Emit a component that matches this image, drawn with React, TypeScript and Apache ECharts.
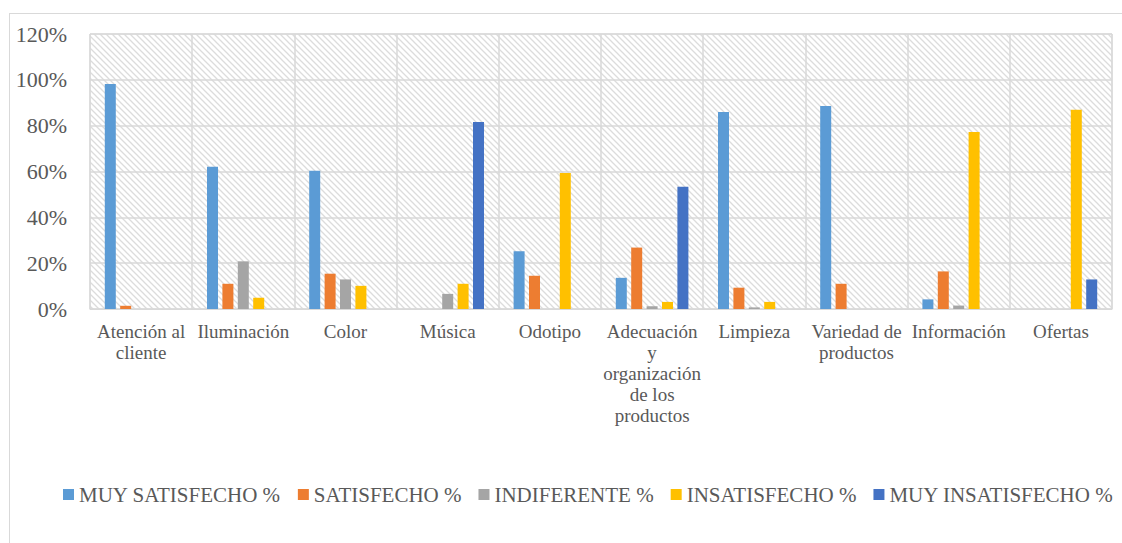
import React, { useEffect, useRef } from "react";
import * as echarts from "echarts";

// Survey categories (x axis)
const categories = [
  "Atención al\ncliente",
  "Iluminación",
  "Color",
  "Música",
  "Odotipo",
  "Adecuación\ny\norganización\nde los\nproductos",
  "Limpieza",
  "Variedad de\nproductos",
  "Información",
  "Ofertas",
];

// Percentage of answers per level of satisfaction
const muySatisfecho = [98.2, 62.1, 60.3, 0, 25.2, 13.6, 86.0, 88.6, 4.2, 0];
const satisfecho = [1.4, 11.0, 15.4, 0, 14.5, 26.8, 9.3, 11.0, 16.4, 0];
const indiferente = [0, 20.8, 12.9, 6.6, 0, 1.2, 0.7, 0, 1.5, 0];
const insatisfecho = [0, 4.9, 10.1, 11.0, 59.4, 3.1, 3.1, 0, 77.2, 86.9];
const muyInsatisfecho = [0, 0, 0, 81.6, 0, 53.3, 0, 0, 0, 12.9];

const seriesNames = [
  "MUY SATISFECHO %",
  "SATISFECHO %",
  "INDIFERENTE %",
  "INSATISFECHO %",
  "MUY INSATISFECHO %",
];
const seriesData = [muySatisfecho, satisfecho, indiferente, insatisfecho, muyInsatisfecho];
const seriesColors = ["#5B9BD5", "#ED7D31", "#A5A5A5", "#FFC000", "#4472C4"];

// Y axis ticks: 0% .. 120% every 20%
const yMin = 0;
const yMax = 120;
const yStep = 20;

const FONT = "Liberation Serif";
const TEXT = "#595959";
const LINE = "#d9d9d9";

// Light diagonal hatch used as the plot-area fill
const hatchTile =
  "data:image/svg+xml;utf8," +
  encodeURIComponent(
    "<svg xmlns='http://www.w3.org/2000/svg' width='6' height='6'>" +
      "<rect width='6' height='6' fill='#ffffff'/>" +
      "<path d='M-1,5 L1,7 M0,0 L6,6 M5,-1 L7,1' stroke='#dcdcdc' stroke-width='1.3'/>" +
      "</svg>"
  );

export default function App() {
  const ref = useRef<HTMLDivElement>(null);

  useEffect(() => {
    if (!ref.current) return;
    const chart = echarts.init(ref.current, undefined, { renderer: "svg" });
    chart.setOption({
      animation: false,
      backgroundColor: "#ffffff",
      textStyle: { fontFamily: FONT },
      graphic: [
        {
          type: "line",
          shape: { x1: 9, y1: 13.5, x2: 1122, y2: 13.5 },
          style: { stroke: LINE, lineWidth: 1 },
          silent: true,
        },
        {
          type: "line",
          shape: { x1: 9.5, y1: 13, x2: 9.5, y2: 543 },
          style: { stroke: LINE, lineWidth: 1 },
          silent: true,
        },
      ],
      grid: {
        left: 90,
        top: 34,
        width: 1022,
        height: 275,
        show: true,
        borderColor: LINE,
        borderWidth: 1,
        backgroundColor: {
          image: hatchTile,
          repeat: "repeat",
          imageWidth: 6,
          imageHeight: 6,
        },
      },
      legend: {
        left: 63,
        top: 484,
        padding: 0,
        icon: "rect",
        itemWidth: 11,
        itemHeight: 11,
        itemGap: 17,
        data: seriesNames,
        textStyle: { fontFamily: FONT, fontSize: 21, color: TEXT },
      },
      xAxis: {
        type: "category",
        data: categories,
        axisLine: { show: true, lineStyle: { color: LINE, width: 1 } },
        axisTick: { show: false },
        splitLine: { show: true, interval: 0, lineStyle: { color: LINE, width: 1.5 } },
        axisLabel: {
          interval: 0,
          margin: 12,
          fontFamily: FONT,
          fontSize: 19,
          lineHeight: 21,
          color: TEXT,
        },
      },
      yAxis: {
        type: "value",
        min: yMin,
        max: yMax,
        interval: yStep,
        axisLine: { show: false },
        axisTick: { show: false },
        splitLine: { show: true, lineStyle: { color: LINE, width: 1.5 } },
        axisLabel: {
          margin: 23,
          fontFamily: FONT,
          fontSize: 22,
          color: TEXT,
          formatter: "{value}%",
        },
      },
      series: seriesNames.map((name, i) => ({
        name,
        type: "bar",
        data: seriesData[i],
        barWidth: 11,
        barGap: "40%",
        itemStyle: { color: seriesColors[i] },
      })),
    });
    return () => chart.dispose();
  }, []);

  return (
    <div
      ref={ref}
      style={{ position: "fixed", left: 0, top: 0, width: 1122, height: 543 }}
    />
  );
}
